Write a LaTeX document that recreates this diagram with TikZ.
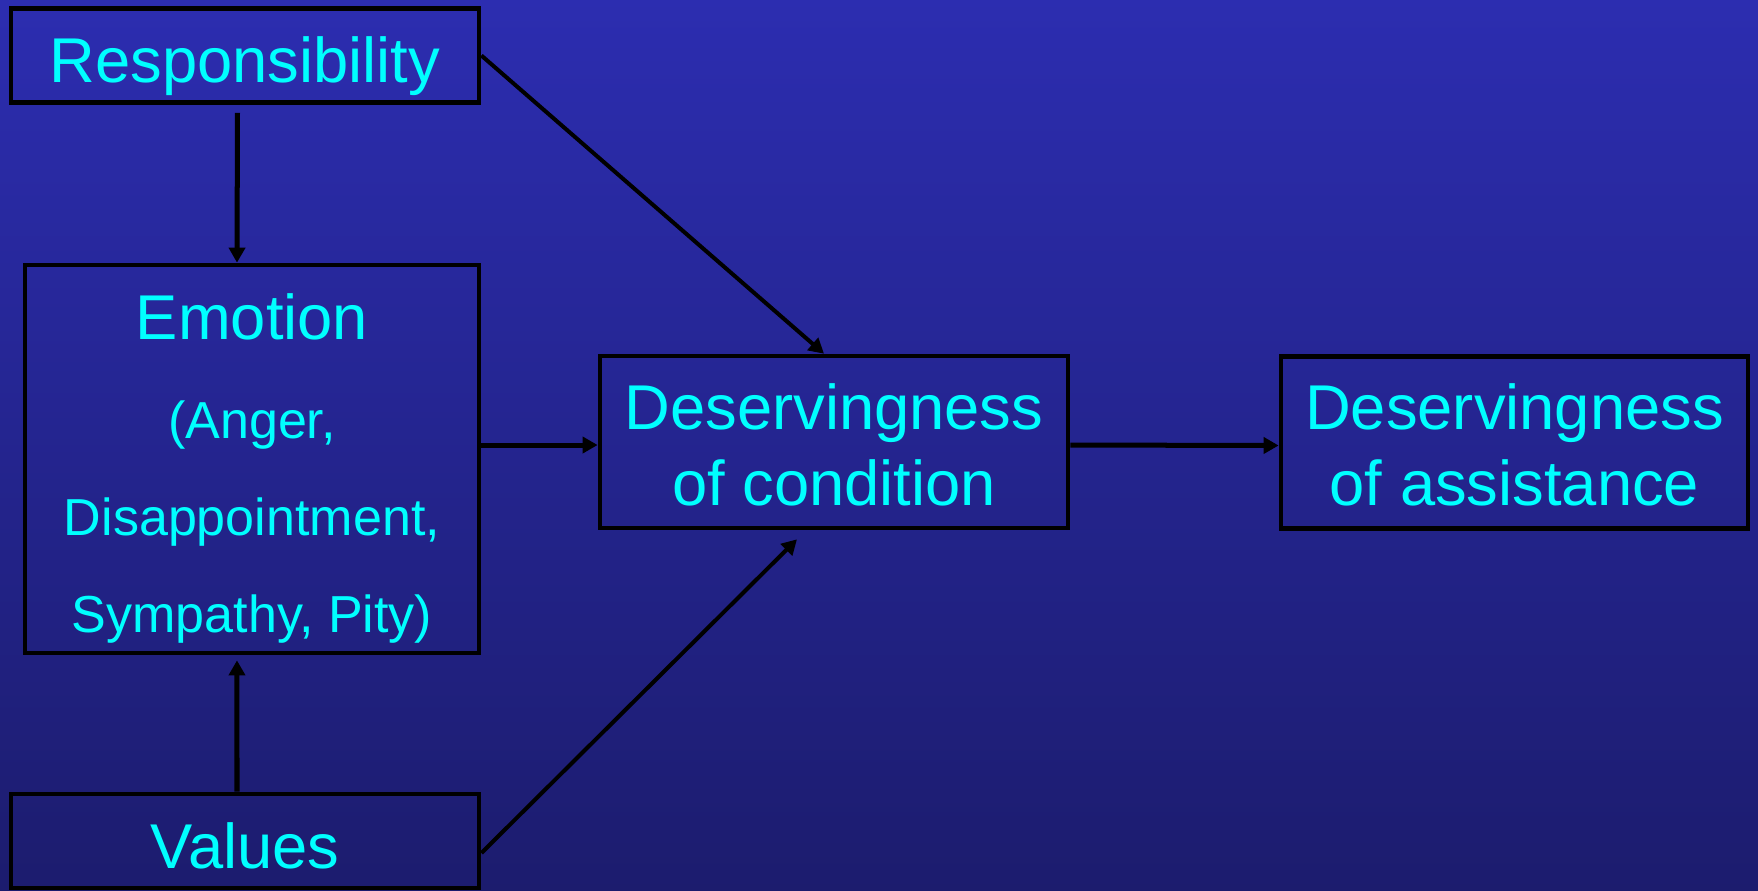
\documentclass[tikz,border=0pt]{standalone}
\usepackage{fontspec}
\setmainfont{Liberation Sans}
\usetikzlibrary{arrows.meta,calc}
\definecolor{bgtop}{RGB}{44,45,176}
\definecolor{bgbot}{RGB}{28,28,110}
\definecolor{txt}{RGB}{0,255,255}
\begin{document}
\begin{tikzpicture}[x=0.01cm,y=-0.01cm,
  box/.style={draw=black,line width=0.045cm,inner sep=0pt,text=txt,align=center,
    font=\fontsize{18}{21.5}\selectfont},
  subtxt/.style={text=txt,inner sep=0pt,anchor=base,font=\fontsize{14.8}{17}\selectfont},
  maintxt/.style={text=txt,inner sep=0pt,anchor=base,font=\fontsize{18}{21.5}\selectfont},
  arr/.style={draw=black,line width=0.05cm,-{Triangle[length=0.15cm,width=0.16cm]}},
  arrthin/.style={draw=black,line width=0.04cm,-{Triangle[length=0.15cm,width=0.16cm]}}]
\useasboundingbox (0,0) rectangle (1758,890);
\shade[top color=bgtop,bottom color=bgbot] (0,0) rectangle (1758,890);

\node[box,minimum width=4.68cm,minimum height=0.94cm,text height=0.53cm,text depth=0pt] (resp) at (245,55.5) {Responsibility};
\node[box,minimum width=4.54cm,minimum height=3.88cm] (emo) at (252,459) {};
\node[maintxt] (emoA) at (252,339) {Emotion};
\node[subtxt] (emoB) at (252,438) {(Anger,};
\node[subtxt] (emoC) at (252,535) {Disappointment,};
\node[subtxt] (emoD) at (252,632) {Sympathy, Pity)};
\node[box,minimum width=4.68cm,minimum height=0.94cm,text height=0.54cm,text depth=0pt] (val) at (245,841) {Values};
\node[box,minimum width=4.68cm,minimum height=1.72cm,text height=1.26cm,text depth=0pt] (dcond) at (834,442) {Deservingness\\of condition};
\node[box,minimum width=4.67cm,minimum height=1.72cm,text height=1.26cm,text depth=0pt] (dassist) at (1514.5,442.5) {Deservingness\\of assistance};

\draw[arr] ([xshift=-0.075cm,yshift=-0.08cm]resp.south) -- ([xshift=-0.15cm]emo.north);
\draw[arrthin] (resp.east) -- ([xshift=-0.10cm]dcond.north);
\draw[arr] ([yshift=-0.03cm]emo.east |- dcond.west) -- ([yshift=-0.03cm]dcond.west);
\draw[arrthin] ([yshift=-0.12cm]val.east) -- ([xshift=-0.37cm,yshift=-0.09cm]dcond.south);
\draw[arr] ([xshift=-0.08cm]val.north) -- ([xshift=-0.15cm,yshift=-0.05cm]emo.south);
\draw[arr] ([yshift=-0.03cm]dcond.east) -- ([yshift=-0.03cm]dassist.west);
\end{tikzpicture}
\end{document}
